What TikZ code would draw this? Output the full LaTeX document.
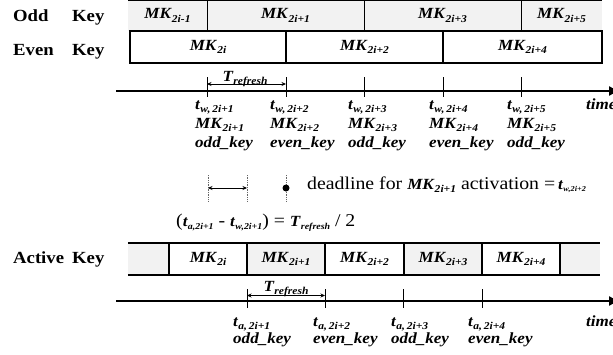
\documentclass[tikz,border=0pt]{standalone}
\usepackage{fontspec}
\setmainfont[FakeStretch=1.1]{Liberation Serif}
\usetikzlibrary{arrows.meta}

\definecolor{oddgray}{RGB}{242,242,242}

% bold italic symbol, its lowered subscript, and the two label kinds
\newcommand\bi[1]{\textbf{\textit{#1}}}
\newcommand\lo[1]{\raisebox{-3.5pt}{\fontsize{10.5}{12}\selectfont\bfseries\itshape #1}}
\newcommand\mk[1]{\bi{MK}\lo{#1}}
\newcommand\tw[2]{\bi{t}\lo{#1,\,#2}}
% compact variants used inside the legend sentences
\newcommand\lot[1]{\raisebox{-3pt}{\fontsize{9}{10}\selectfont\bfseries\itshape #1}}
\newcommand\lott[1]{\raisebox{-2.5pt}{\fontsize{7.5}{9}\selectfont\bfseries\itshape #1}}
\newcommand\twc[2]{{\fontsize{15.5}{18}\selectfont\bi{t}}\lot{#1,#2}}
\newcommand\twt[2]{{\fontsize{15.5}{18}\selectfont\bi{t}}\lott{#1,#2}}
\newcommand\mkc[1]{{\fontsize{15.5}{18}\selectfont\bi{MK}}\lo{#1}}

\begin{document}
\begin{tikzpicture}[x=1pt,y=-1pt,
  every node/.style={font=\fontsize{15.5}{18}\selectfont},
  lbl/.style={inner sep=0pt, anchor=base west},
  rowlbl/.style={inner sep=0pt, anchor=base west, font=\fontsize{17}{20}\selectfont\bfseries},
  legend/.style={inner sep=0pt, anchor=base west, font=\fontsize{18}{20}\selectfont},
  oddcell/.style={fill=oddgray, inner sep=0pt, minimum height=31pt},
  evencell/.style={draw, line width=1.8pt, fill=white, inner sep=0pt, minimum height=32pt},
  actcell/.style={inner sep=0pt, minimum height=32pt},
  divider/.style={line width=1.4pt},
  thickdiv/.style={line width=1.8pt},
  axis/.style={line width=2.4pt, -{Triangle[length=9pt,width=9pt]}},
  tick/.style={line width=0.9pt},
  span/.style={line width=0.8pt, {Stealth[length=4.5pt,width=4pt]}-{Stealth[length=4.5pt,width=4pt]}},
  guide/.style={densely dotted, line width=0.7pt, black!60}
]
\useasboundingbox (0,0) rectangle (613,354);

% ---------- row labels ----------
\node[rowlbl] (oddA)  at (13,21.5) {Odd};
\node[rowlbl] (oddB)  at (72,21.5) {Key};
\node[rowlbl] (evenA) at (13,55)   {Even};
\node[rowlbl] (evenB) at (72,55)   {Key};
\node[rowlbl] (actA)  at (13,263)  {Active};
\node[rowlbl] (actB)  at (72,263)  {Key};

% ---------- odd key row ----------
\node[oddcell, minimum width=79pt]  (o1) at (167.5,15.5) {\mk{2i-1}};
\node[oddcell, minimum width=157pt] (o2) at (285.5,15.5) {\mk{2i+1}};
\node[oddcell, minimum width=157pt] (o3) at (442.5,15.5) {\mk{2i+3}};
\node[oddcell, minimum width=81pt]  (o4) at (561.5,15.5) {\mk{2i+5}};
\draw[divider] (o1.north west) -- (o4.north east);
\foreach \c in {o1,o2,o3} \draw[divider] (\c.north east) -- (\c.south east);

% ---------- even key row ----------
\node[evencell, minimum width=156pt] (e1) at (208,47)   {\mk{2i}};
\node[evencell, minimum width=157pt] (e2) at (364.5,47) {\mk{2i+2}};
\node[evencell, minimum width=159pt] (e3) at (522.5,47) {\mk{2i+4}};

% ---------- first time axis ----------
\coordinate (ax1s) at (116,91);
\coordinate (ax1e) at (618,91);
\draw[axis] (ax1s) -- (ax1e);
\coordinate (w1) at (207,91);
\coordinate (w2) at (286,91);
\coordinate (w3) at (364,91);
\coordinate (w4) at (443,91);
\coordinate (w5) at (521,91);
\foreach \c in {w1,w2,w3,w4,w5} \draw[tick] (\c) +(0,-14) -- +(0,6);

\draw[span] ([yshift=7pt]w1) -- ([yshift=7pt]w2);
\node[inner sep=0pt, anchor=base] (tr1) at (245,81) {\bi{T}\lo{refresh}};

\foreach \x/\n/\k [count=\c] in {195/1/odd, 270/2/even, 348/3/odd, 429/4/even, 507/5/odd} {
  \node[lbl] (tw\c) at (\x,109) {\tw{w}{2i+\n}};
  \node[lbl] (mw\c) at (\x,128) {\mk{2i+\n}};
  \node[lbl] (kw\c) at (\x,147) {\bi{\k\_key}};
}
\node[lbl] (time1) at (586,109) {\bi{time}};

% ---------- legend ----------
\coordinate (g1) at (208,188);
\coordinate (g2) at (247,188);
\coordinate (g3) at (286,188);
\foreach \c in {g1,g2,g3} \draw[guide] (\c) +(0,-13) -- +(0,14);
\draw[span] (g1) -- (g2);
\fill (g3) circle (3.5pt);
\node[legend] (dl) at (307,189)
  {deadline for \mkc{2i+1} activation =\,\twt{w}{2i+2}};
\node[legend] (eq) at (176,226)
  {(\twc{a}{2i+1} - \twc{w}{2i+1}) = {\fontsize{15.5}{18}\selectfont\bi{T}}\lot{refresh} / 2};

% ---------- active key row ----------
\node[actcell, fill=oddgray, minimum width=41pt] (a0) at (148.5,259) {};
\node[actcell, fill=white,   minimum width=78pt] (a1) at (208,259)   {\mk{2i}};
\node[actcell, fill=oddgray, minimum width=78pt] (a2) at (286,259)   {\mk{2i+1}};
\node[actcell, fill=white,   minimum width=79pt] (a3) at (364.5,259) {\mk{2i+2}};
\node[actcell, fill=oddgray, minimum width=78pt] (a4) at (443,259)   {\mk{2i+3}};
\node[actcell, fill=white,   minimum width=78pt] (a5) at (521,259)   {\mk{2i+4}};
\node[actcell, fill=oddgray, minimum width=40pt] (a6) at (580,259)   {};
\draw[thickdiv] (a0.north west) -- (a6.north east);
\draw[thickdiv] (a0.south west) -- (a6.south east);
\foreach \c in {a0,a1,a2,a3,a4,a5} \draw[thickdiv] (\c.north east) -- (\c.south east);

% ---------- second time axis ----------
\coordinate (ax2s) at (116,301);
\coordinate (ax2e) at (618,301);
\draw[axis] (ax2s) -- (ax2e);
\coordinate (t1) at (247,301);
\coordinate (t2) at (325,301);
\coordinate (t3) at (403,301);
\coordinate (t4) at (482,301);
\foreach \c in {t1,t2,t3,t4} \draw[tick] (\c) +(0,-12) -- +(0,7);

\draw[span] ([yshift=5.5pt]t1) -- ([yshift=5.5pt]t2);
\node[inner sep=0pt, anchor=base] (tr2) at (286,291) {\bi{T}\lo{refresh}};

\foreach \x/\n/\k [count=\c] in {233/1/odd, 313/2/even, 391/3/odd, 468/4/even} {
  \node[lbl] (ta\c) at (\x,326) {\tw{a}{2i+\n}};
  \node[lbl] (ka\c) at (\x,343) {\bi{\k\_key}};
}
\node[lbl] (time2) at (586,326) {\bi{time}};
\end{tikzpicture}
\end{document}
